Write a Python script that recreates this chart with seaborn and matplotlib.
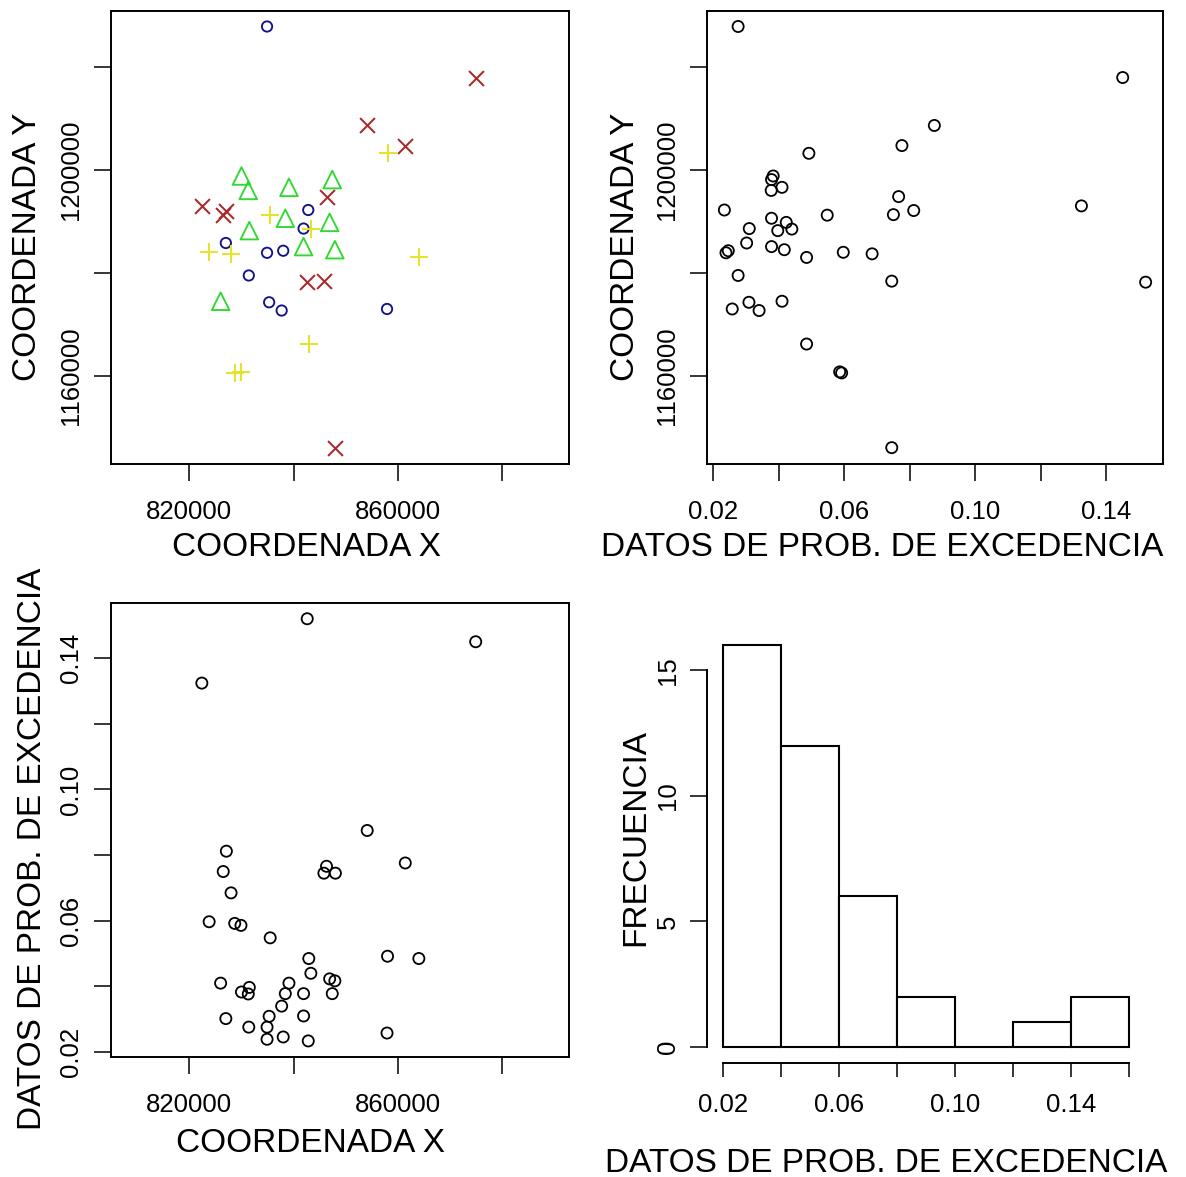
import numpy as np
import pandas as pd
import matplotlib
matplotlib.use("Agg")
import matplotlib.pyplot as plt
import seaborn as sns

# ---------------- data ----------------
coord_x = [834900, 842800, 841900, 827000, 834900, 838000, 831400, 835300, 837700, 857900,
           830000, 831300, 839100, 847400, 838400, 831500, 846900, 841900, 847900, 826000,
           858000, 835500, 843300, 823800, 828000, 864000, 842900, 828700, 829900,
           874900, 854100, 861400, 846300, 822400, 826500, 827100, 842600, 845800, 848000]
coord_y = [1227800, 1192200, 1188600, 1185800, 1183900, 1184300, 1179500, 1174300, 1172700, 1173000,
           1198800, 1196000, 1196600, 1198100, 1190600, 1188200, 1189800, 1185100, 1184500, 1174500,
           1203200, 1191200, 1188500, 1184000, 1183700, 1183000, 1166200, 1160600, 1160800,
           1217900, 1208600, 1204700, 1194800, 1193000, 1191300, 1192100, 1178200, 1178400, 1146100]
prob_exc = [0.0276, 0.0234, 0.0310, 0.0302, 0.0239, 0.0246, 0.0276, 0.0309, 0.0340, 0.0258,
            0.0383, 0.0377, 0.0410, 0.0378, 0.0378, 0.0397, 0.0423, 0.0378, 0.0417, 0.0410,
            0.0492, 0.0548, 0.0440, 0.0597, 0.0685, 0.0485, 0.0485, 0.0592, 0.0586,
            0.1450, 0.0875, 0.0776, 0.0766, 0.1324, 0.0750, 0.0812, 0.1520, 0.0745, 0.0745]
hist_breaks = [0.02, 0.04, 0.06, 0.08, 0.10, 0.12, 0.14, 0.16]

quartile_names = ["Q1", "Q2", "Q3", "Q4"]
quartile_colors = ["#12128c", "#30d830", "#e4e42a", "#a82a2a"]
quartile_markers = ["o", "^", "+", "x"]

coord_ticks = [820000, 840000, 860000, 880000]
coord_ticklabels = ["820000", "", "860000", ""]
ycoord_ticks = [1160000, 1180000, 1200000, 1220000]
ycoord_ticklabels = ["1160000", "", "1200000", ""]
prob_ticks = [0.02, 0.04, 0.06, 0.08, 0.10, 0.12, 0.14]
prob_ticklabels = ["0.02", "", "0.06", "", "0.10", "", "0.14"]
hist_xticks = [0.02, 0.04, 0.06, 0.08, 0.10, 0.12, 0.14, 0.16]
hist_xticklabels = ["0.02", "", "0.06", "", "0.10", "", "0.14", ""]
freq_ticks = [0, 5, 10, 15]
freq_ticklabels = ["0", "5", "10", "15"]

lab_x = "COORDENADA X"
lab_y = "COORDENADA Y"
lab_d = "DATOS DE PROB. DE EXCEDENCIA"
lab_f = "FRECUENCIA"

df = pd.DataFrame({"X": coord_x, "Y": coord_y, "D": prob_exc})
df["grp"] = pd.qcut(df["D"], 4, labels=quartile_names)

# ---------------- style ----------------
sns.set_style("white")
plt.rcParams["font.family"] = ["Liberation Sans", "DejaVu Sans"]
plt.rcParams["axes.linewidth"] = 1.4
plt.rcParams["axes.edgecolor"] = "black"

W, H = 1186, 1177
fig = plt.figure(figsize=(W / 100, H / 100), dpi=100)
fig.patch.set_facecolor("white")


def box(l, t, r, b):
    return [l / W, 1 - b / H, (r - l) / W, (b - t) / H]


ax_tl = fig.add_axes(box(111, 11, 569, 464))
ax_tr = fig.add_axes(box(707, 11, 1163, 464))
ax_bl = fig.add_axes(box(111, 603, 569, 1057))
ax_br = fig.add_axes(box(707.2, 629.3, 1145.5, 1063))

TICK_FS = 18.5
LAB_FS = 24


def style_ticks(ax, xpad, ypad, xlen=12.3, ylen=12.3):
    ax.tick_params(axis="x", direction="out", length=xlen, width=1.1, colors="black",
                   labelsize=TICK_FS, pad=xpad, bottom=True)
    ax.tick_params(axis="y", direction="out", length=ylen, width=1.1, colors="black",
                   labelsize=TICK_FS, pad=ypad, left=True, labelrotation=90)
    for t in ax.get_yticklabels():
        t.set_va("center")


def place_labels(ax, xl, yl, xpos, ypos):
    ax.set_xlabel(xl, fontsize=LAB_FS, color="black")
    ax.set_ylabel(yl, fontsize=LAB_FS, color="black")
    ax.xaxis.label.set_va("center")
    ax.yaxis.label.set_va("center")
    ax.xaxis.set_label_coords(xpos[0] / W, 1 - xpos[1] / H, transform=fig.transFigure)
    ax.yaxis.set_label_coords(ypos[0] / W, 1 - ypos[1] / H, transform=fig.transFigure)


# ---- top-left: coordinates coloured by quartile ----
sizes = {"o": 55, "^": 160, "+": 160, "x": 115}
for name, col, mk in zip(quartile_names, quartile_colors, quartile_markers):
    sub = df[df["grp"] == name]
    if mk in ("o", "^"):
        sns.scatterplot(data=sub, x="X", y="Y", ax=ax_tl, marker=mk, s=sizes[mk],
                        color=col, facecolor="none", edgecolor=col, linewidth=1.35,
                        legend=False, zorder=3)
    else:
        sns.scatterplot(data=sub, x="X", y="Y", ax=ax_tl, marker=mk, s=sizes[mk],
                        color=col, linewidth=1.45, legend=False, zorder=3)
ax_tl.set_xlim(804984, 892786)
ax_tl.set_ylim(1142929, 1230805)
ax_tl.set_xticks(coord_ticks)
ax_tl.set_xticklabels(coord_ticklabels)
ax_tl.set_yticks(ycoord_ticks)
ax_tl.set_yticklabels(ycoord_ticklabels)
style_ticks(ax_tl, 13.6, 8.0)
place_labels(ax_tl, lab_x, lab_y, (306, 548), (28, 247))

# ---- top-right: data vs Y coordinate ----
sns.scatterplot(data=df, x="D", y="Y", ax=ax_tr, marker="o", s=64, color="black",
                facecolor="none", edgecolor="black", linewidth=1.3, legend=False)
ax_tr.set_xlim(0.0181, 0.1573)
ax_tr.set_ylim(1142929, 1230805)
ax_tr.set_xticks(prob_ticks)
ax_tr.set_xticklabels(prob_ticklabels)
ax_tr.set_yticks(ycoord_ticks)
ax_tr.set_yticklabels(ycoord_ticklabels)
style_ticks(ax_tr, 13.6, 8.0)
place_labels(ax_tr, lab_d, lab_y, (882, 548), (626, 247))

# ---- bottom-left: X coordinate vs data ----
sns.scatterplot(data=df, x="X", y="D", ax=ax_bl, marker="o", s=64, color="black",
                facecolor="none", edgecolor="black", linewidth=1.3, legend=False)
ax_bl.set_xlim(804984, 892786)
ax_bl.set_ylim(0.0185, 0.1568)
ax_bl.set_xticks(coord_ticks)
ax_bl.set_xticklabels(coord_ticklabels)
ax_bl.set_yticks(prob_ticks)
ax_bl.set_yticklabels(prob_ticklabels)
style_ticks(ax_bl, 13.6, 8.0)
place_labels(ax_bl, lab_x, lab_d, (310, 1143), (33, 849))

# ---- bottom-right: histogram ----
sns.histplot(data=df, x="D", bins=hist_breaks, stat="count", ax=ax_br, color="white",
             edgecolor="black", linewidth=1.5, alpha=1.0, fill=True)
ax_br.set_xlim(0.0144, 0.1656)
ax_br.set_ylim(-0.64, 16.64)
ax_br.set_xticks(hist_xticks)
ax_br.set_xticklabels(hist_xticklabels)
ax_br.set_yticks(freq_ticks)
ax_br.set_yticklabels(freq_ticklabels)
for side in ("top", "right"):
    ax_br.spines[side].set_visible(False)
ax_br.spines["left"].set_bounds(0, 15)
ax_br.spines["bottom"].set_bounds(0.02, 0.16)
style_ticks(ax_br, 11.5, 7.3, xlen=10.3, ylen=12.3)
place_labels(ax_br, lab_d, lab_f, (886, 1163), (636, 838))

fig.savefig("out.png", dpi=100, facecolor="white")
